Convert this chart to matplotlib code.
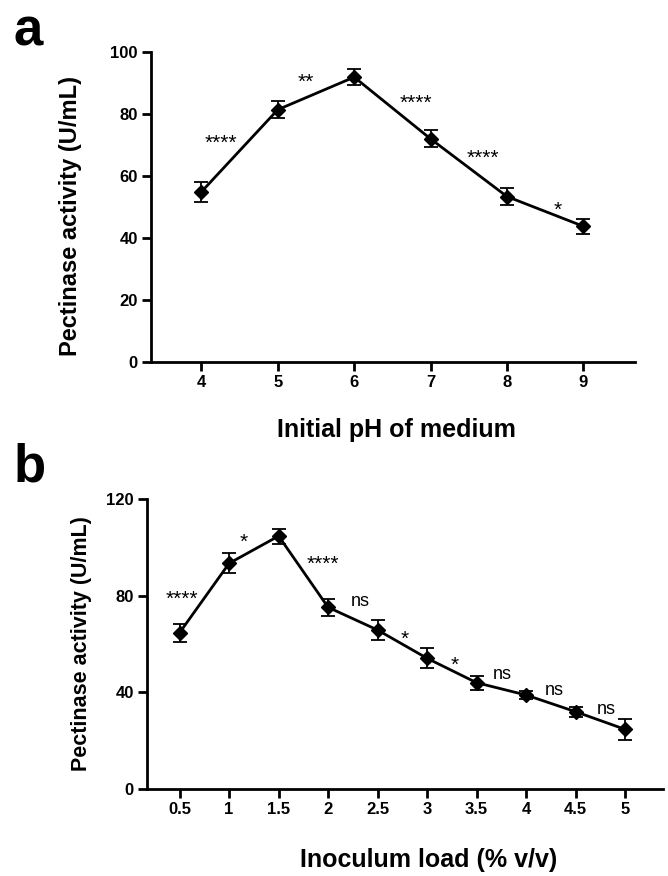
import matplotlib
matplotlib.use("Agg")
import matplotlib.pyplot as plt

plt.rcParams['font.family'] = ['Liberation Sans', 'DejaVu Sans']

# panel a: initial pH
ph = [4, 5, 6, 7, 8, 9]
ph_activity = [54.8, 81.3, 91.8, 71.9, 53.3, 43.7]
ph_err = [3.2, 2.8, 2.5, 2.7, 2.8, 2.5]
ph_sig = ['****', '**', '****', '****', '*']
ph_sig_x = [4.25, 5.37, 6.81, 7.69, 8.66]
ph_sig_y = [70.5, 90.0, 83.5, 65.5, 49.0]

# panel b: inoculum load
inoc = [0.5, 1, 1.5, 2, 2.5, 3, 3.5, 4, 4.5, 5]
inoc_labels = ['0.5', '1', '1.5', '2', '2.5', '3', '3.5', '4', '4.5', '5']
inoc_activity = [64.7, 93.4, 104.7, 75.2, 65.8, 54.1, 44.0, 38.9, 32.0, 24.7]
inoc_err = [3.7, 4.1, 3.1, 3.6, 4.1, 4.2, 2.9, 1.7, 2.0, 4.3]
inoc_sig = ['****', '*', '****', 'ns', '*', '*', 'ns', 'ns', 'ns']
inoc_sig_x = [0.52, 1.15, 1.95, 2.33, 2.77, 3.28, 3.76, 4.29, 4.81]
inoc_sig_y = [78.5, 102.0, 93.0, 77.5, 62.0, 51.0, 47.2, 40.7, 33.0]

fig = plt.figure(figsize=(6.68, 8.76), dpi=100)


def style(ax):
    for s in ['top', 'right']:
        ax.spines[s].set_visible(False)
    for s in ['left', 'bottom']:
        ax.spines[s].set_linewidth(2.0)
    ax.tick_params(width=2.0, length=6.5, labelsize=12, pad=3)
    for lab in ax.get_xticklabels() + ax.get_yticklabels():
        lab.set_fontweight('bold')


def draw(ax, x, y, e, sig, sx, sy):
    ax.errorbar(x, y, yerr=e, color='black', lw=2.0, marker='D', ms=7,
                elinewidth=1.3, capsize=5, capthick=1.3, clip_on=False)
    for t, tx, ty in zip(sig, sx, sy):
        fs = 13 if t == 'ns' else 15
        ax.text(tx, ty, t, ha='center', va='center', fontsize=fs)


axa = fig.add_axes([0.226, 0.587, 0.725, 0.354])
draw(axa, ph, ph_activity, ph_err, ph_sig, ph_sig_x, ph_sig_y)
axa.set_xlim(3.34, 9.68)
axa.set_ylim(0, 100)
axa.set_xticks(ph)
axa.set_yticks([0, 20, 40, 60, 80, 100])
axa.set_ylabel('Pectinase activity (U/mL)', fontsize=17, fontweight='bold')
axa.yaxis.set_label_coords(-0.143, 0.471)
style(axa)
fig.text(0.593, 0.509, 'Initial pH of medium', ha='center', va='center',
         fontsize=18, fontweight='bold')
fig.text(0.02, 0.964, 'a', ha='left', va='center', fontsize=38,
         fontweight='bold')

axb = fig.add_axes([0.220, 0.0993, 0.772, 0.331])
draw(axb, inoc, inoc_activity, inoc_err, inoc_sig, inoc_sig_x, inoc_sig_y)
axb.set_xlim(0.17, 5.38)
axb.set_ylim(0, 120)
axb.set_xticks(inoc)
axb.set_xticklabels(inoc_labels)
axb.set_yticks([0, 40, 80, 120])
axb.set_ylabel('Pectinase activity (U/mL)', fontsize=15.5, fontweight='bold')
axb.yaxis.set_label_coords(-0.107, 0.503)
style(axb)
fig.text(0.641, 0.018, 'Inoculum load (% v/v)', ha='center', va='center',
         fontsize=18, fontweight='bold')
fig.text(0.02, 0.466, 'b', ha='left', va='center', fontsize=38,
         fontweight='bold')

fig.savefig('out.png', dpi=100, facecolor='white')
